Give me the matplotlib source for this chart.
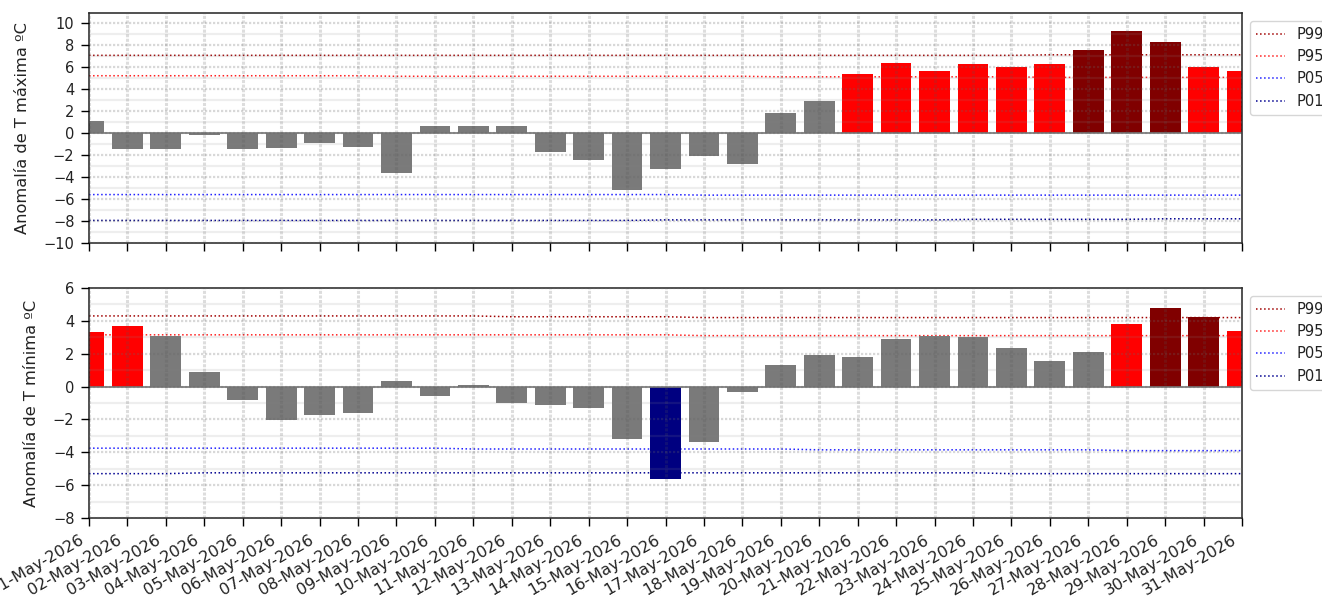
import matplotlib
matplotlib.use('Agg')
import matplotlib.pyplot as plt
from matplotlib.ticker import MultipleLocator
from matplotlib.transforms import ScaledTranslation

# Anomalias diarias de T maxima y minima, mayo 2026
days = list(range(1, 32))
labels = ['%02d-May-2026' % d for d in days]

tmax = [1.1, -1.5, -1.5, -0.2, -1.5, -1.4, -0.9, -1.3, -3.6, 0.6, 0.6, 0.6, -1.7, -2.5, -5.2, -3.3,
        -2.1, -2.8, 1.8, 2.9, 5.4, 6.4, 5.6, 6.3, 6.0, 6.3, 7.5, 9.3, 8.3, 6.0, 5.6]
tmin = [3.3, 3.7, 3.1, 0.9, -0.8, -2.05, -1.7, -1.6, 0.35, -0.6, 0.1, -1.0, -1.1, -1.3, -3.2, -5.6,
        -3.4, -0.3, 1.3, 1.9, 1.8, 2.9, 3.05, 3.0, 2.35, 1.55, 2.1, 3.8, 4.8, 4.25, 3.4]

# percentiles, casi planos a lo largo del mes
max_p99 = [7.05, 7.05, 7.05, 7.05, 7.05, 7.05, 7.05, 7.05, 7.05, 7.05, 7.05, 7.05, 7.05, 7.05, 7.05, 7.05,
           7.05, 7.05, 7.05, 7.05, 7.05, 7.05, 7.05, 7.05, 7.05, 7.1, 7.1, 7.1, 7.1, 7.1, 7.1]
max_p95 = [5.2, 5.2, 5.2, 5.2, 5.2, 5.2, 5.2, 5.2, 5.15, 5.15, 5.15, 5.15, 5.15, 5.15, 5.15, 5.15,
           5.15, 5.15, 5.1, 5.1, 5.1, 5.1, 5.1, 5.1, 5.1, 5.05, 5.05, 5.05, 5.05, 5.05, 5.05]
max_p05 = [-5.6, -5.6, -5.6, -5.6, -5.6, -5.6, -5.6, -5.6, -5.6, -5.6, -5.6, -5.6, -5.6, -5.6, -5.6, -5.6,
           -5.65, -5.65, -5.65, -5.65, -5.65, -5.65, -5.65, -5.65, -5.65, -5.65, -5.65, -5.65, -5.65, -5.65, -5.65]
max_p01 = [-7.95, -7.95, -7.95, -7.95, -7.95, -7.95, -7.95, -7.95, -7.95, -7.95, -7.95, -7.95, -7.95, -7.95, -7.95, -7.9,
           -7.9, -7.9, -7.9, -7.9, -7.9, -7.9, -7.9, -7.85, -7.85, -7.85, -7.85, -7.85, -7.8, -7.8, -7.8]

min_p99 = [4.3, 4.3, 4.3, 4.3, 4.3, 4.3, 4.3, 4.3, 4.3, 4.3, 4.3, 4.25, 4.25, 4.25, 4.25, 4.25,
           4.2, 4.2, 4.2, 4.2, 4.2, 4.2, 4.2, 4.2, 4.2, 4.2, 4.2, 4.2, 4.2, 4.2, 4.2]
min_p95 = [3.15, 3.15, 3.15, 3.15, 3.15, 3.15, 3.15, 3.15, 3.15, 3.15, 3.15, 3.15, 3.15, 3.15, 3.15, 3.15,
           3.1, 3.1, 3.1, 3.1, 3.1, 3.1, 3.1, 3.1, 3.1, 3.1, 3.1, 3.1, 3.1, 3.1, 3.1]
min_p05 = [-3.75, -3.75, -3.75, -3.75, -3.75, -3.75, -3.75, -3.75, -3.75, -3.75, -3.8, -3.8, -3.8, -3.8, -3.8, -3.8,
           -3.8, -3.8, -3.8, -3.85, -3.85, -3.85, -3.85, -3.85, -3.85, -3.85, -3.85, -3.9, -3.9, -3.9, -3.9]
min_p01 = [-5.3, -5.3, -5.3, -5.25, -5.25, -5.25, -5.25, -5.25, -5.25, -5.25, -5.25, -5.25, -5.25, -5.25, -5.25, -5.25,
           -5.25, -5.25, -5.25, -5.25, -5.25, -5.25, -5.25, -5.25, -5.3, -5.3, -5.3, -5.3, -5.3, -5.3, -5.3]


def bar_colors(values, p99, p95, p05, p01):
    colors = []
    for v, a, b, c, d in zip(values, p99, p95, p05, p01):
        if v >= a:
            colors.append('#800000')
        elif v >= b:
            colors.append('#ff0000')
        elif v <= d:
            colors.append('#000080')
        elif v <= c:
            colors.append('#0000ff')
        else:
            colors.append('#7a7a7a')
    return colors


def panel(ax, values, p99, p95, p05, p01, ylabel, ylim, major):
    ax.plot(days, p99, color='#a00000', ls=':', lw=1.1, zorder=1, label='P99')
    ax.plot(days, p95, color='#ff2020', ls=':', lw=1.1, zorder=1, label='P95')
    ax.plot(days, p05, color='#2020ff', ls=':', lw=1.1, zorder=1, label='P05')
    ax.plot(days, p01, color='#000090', ls=':', lw=1.1, zorder=1, label='P01')
    ax.bar(days, values, width=0.8, color=bar_colors(values, p99, p95, p05, p01), zorder=2)
    ax.axhline(0, color='#777777', lw=1.2, zorder=2.5)

    ax.set_xlim(1, 31)
    ax.set_ylim(*ylim)
    ax.set_xticks(days)
    ax.yaxis.set_major_locator(MultipleLocator(major))
    ax.yaxis.set_minor_locator(MultipleLocator(major / 2))
    ax.tick_params(axis='y', which='minor', length=0)
    ax.set_axisbelow(False)
    ax.grid(True, axis='x', which='major', color='#555555', ls=(0, (1, 0.5)), lw=2.2, alpha=0.2, zorder=3)
    ax.grid(True, axis='y', which='major', color='#666666', ls=(0, (1, 0.8)), lw=1.6, alpha=0.25, zorder=3)
    ax.grid(True, axis='y', which='minor', color='#888888', ls='-', lw=1.6, alpha=0.14, zorder=3)
    ax.set_ylabel(ylabel, fontsize=11.7, labelpad=10, color='#222222')
    ax.tick_params(which='major', labelsize=10.5, length=5.5, pad=5, width=1, labelcolor='#222222')
    for s in ax.spines.values():
        s.set_linewidth(1.1)
        s.set_color('#222222')
    ax.legend(loc='upper left', bbox_to_anchor=(1.003, 0.985), fontsize=10.6, borderaxespad=0.3,
              labelcolor='#222222')


fig = plt.figure(figsize=(13.22, 6), dpi=100)
ax1 = fig.add_axes([89 / 1322, 1 - 243 / 600, 1153 / 1322, 230 / 600])
ax2 = fig.add_axes([89 / 1322, 1 - 518 / 600, 1153 / 1322, 230 / 600])

panel(ax1, tmax, max_p99, max_p95, max_p05, max_p01, 'Anomalía de T máxima ºC', (-10, 10.9), 2)
panel(ax2, tmin, min_p99, min_p95, min_p05, min_p01, 'Anomalía de T mínima ºC', (-8, 6), 2)

ax1.tick_params(labelbottom=False)
ax2.set_xticklabels(labels, rotation=30, ha='right', fontsize=11.5)
# las etiquetas quedan un poco a la izquierda de la marca
shift = ScaledTranslation(-3 / 100, 0, fig.dpi_scale_trans)
for t in ax2.get_xticklabels():
    t.set_transform(t.get_transform() + shift)

plt.savefig('out.png', dpi=100)
